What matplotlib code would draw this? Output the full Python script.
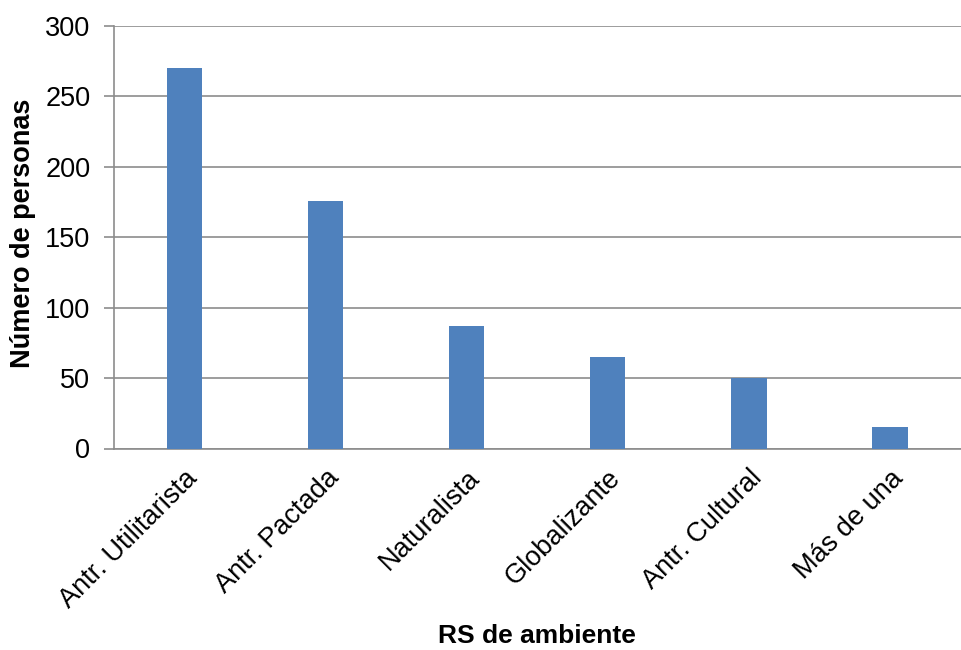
import matplotlib
matplotlib.use("Agg")
import matplotlib.pyplot as plt
import numpy as np

plt.rcParams['font.family'] = ['Liberation Sans', 'DejaVu Sans']

categorias = ["Antr. Utilitarista", "Antr. Pactada", "Naturalista",
              "Globalizante", "Antr. Cultural", "Más de una"]
personas = [270, 176, 87, 65, 50, 15]

fig = plt.figure(figsize=(9.62, 6.5), dpi=100)
ax = fig.add_axes([0.1185, 0.31, 0.88, 0.65])

x = np.arange(len(categorias))
ax.bar(x, personas, width=0.25, color="#4f81bd", zorder=3)

ax.set_xlim(-0.5, len(categorias) - 0.5)
ax.set_ylim(0, 300)
ax.set_yticks(range(0, 301, 50))
ax.yaxis.grid(True, color="#8c8c8c", linewidth=1.2, zorder=0)

ax.set_xticks(x)
ax.set_xticklabels(categorias, rotation=45, ha="right", rotation_mode="anchor",
                   fontsize=19.5)
ax.tick_params(axis="x", length=0, pad=12)
ax.tick_params(axis="y", length=7, width=1.2, color="#8c8c8c", labelsize=19.5, pad=10)

for s in ["top", "right"]:
    ax.spines[s].set_visible(False)
for s in ["left", "bottom"]:
    ax.spines[s].set_color("#8c8c8c")
    ax.spines[s].set_linewidth(1.2)

ax.set_ylabel("Número de personas", fontsize=19.5, fontweight="bold")
ax.yaxis.set_label_coords(-0.092, 0.51)
ax.set_xlabel("RS de ambiente", fontsize=19, fontweight="bold")
ax.xaxis.set_label_coords(0.5, -0.415)

fig.savefig("out.png", dpi=100)
